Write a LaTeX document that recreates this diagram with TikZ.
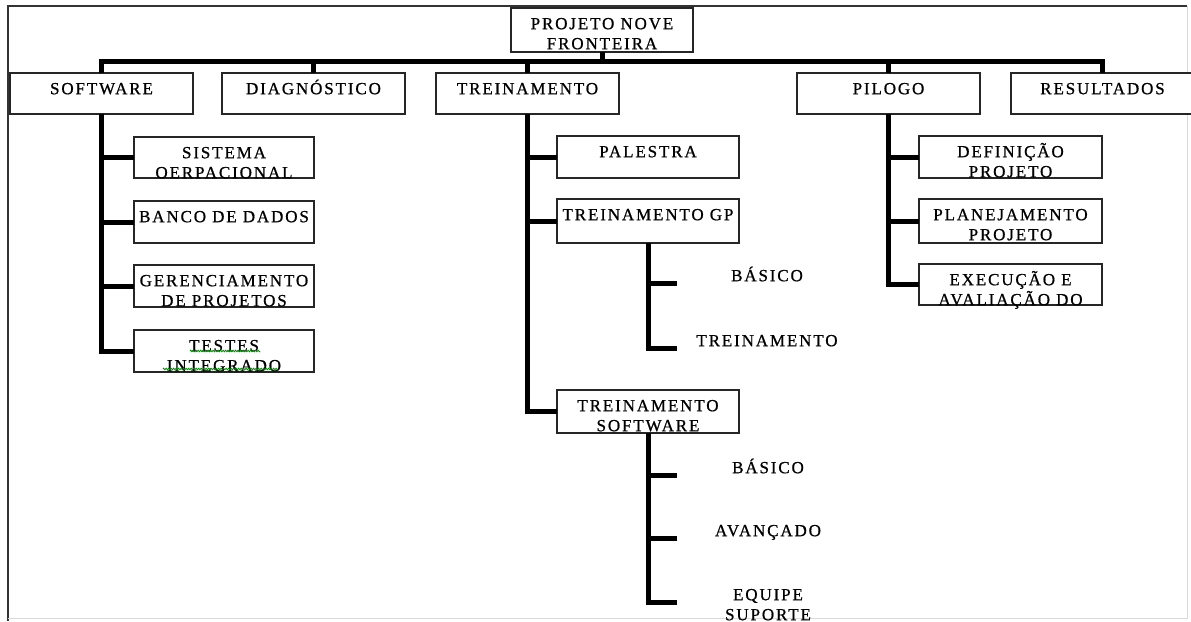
\documentclass[tikz,border=0pt]{standalone}
\usepackage{fontspec}
\setmainfont{Liberation Serif}[LetterSpace=11, FakeBold=0.8]
\usetikzlibrary{calc,decorations.pathmorphing}

% invisible first-line strut: fixes the distance from a text's top to its first baseline
\newcommand\wbsstrut{\rule{0pt}{15pt}}

% box from (x1,y1) to (x2,y2), y measured downwards; text set from the top
\newcommand\wbsbox[6]{%
  \node[box, minimum width={(#4-#2)*1pt}, minimum height={(#5-#3)*1pt}]
    (#1) at ({(#2+#4)/2},{(#3+#5)/2}) {};
  \node[txt] (#1-t) at ($(#1.north)+(0,6)$) {\wbsstrut#6};%
}

\begin{document}
\begin{tikzpicture}[x=1pt,y=-1pt,
  box/.style={draw=black!85, line width=1.5pt, fill=white, inner sep=0pt, outer sep=0pt},
  trunk/.style={line width=5pt, line join=miter, black},
  txt/.style={font=\fontsize{17}{20}\selectfont, align=center, inner sep=0pt, anchor=north},
  squiggle/.style={draw=green!55!black, line width=0.8pt, decorate,
    decoration={zigzag, amplitude=0.8pt, segment length=2.5pt}}
]
\useasboundingbox (0,0) rectangle (1191,621);

% page frame
\draw[black!80, line width=1.5pt] (8,621) -- (8,6) -- (1187,6);
\draw[black!15, line width=1pt] (1187,6) -- (1187,618) -- (8,618);

% boxes
\wbsbox{root}{511}{8}{693}{52}{PROJETO NOVE\\FRONTEIRA}

\wbsbox{sw}{10}{73}{193}{114}{SOFTWARE}
\wbsbox{dia}{222}{73}{405}{114}{DIAGNÓSTICO}
\wbsbox{tre}{436}{73}{619}{114}{TREINAMENTO}
\wbsbox{pil}{797}{73}{980}{114}{PILOGO}
\wbsbox{res}{1011}{73}{1194}{114}{RESULTADOS}

\wbsbox{sw1}{134}{137}{314}{178}{SISTEMA\\OERPACIONAL}
\wbsbox{sw2}{134}{201}{314}{243}{BANCO DE DADOS}
\wbsbox{sw3}{134}{265}{314}{307}{GERENCIAMENTO\\DE PROJETOS}
\wbsbox{sw4}{134}{330}{314}{372}{TESTES\\INTEGRADO}

\wbsbox{tr1}{557}{136}{739}{178}{PALESTRA}
\wbsbox{tr2}{557}{199}{739}{243}{TREINAMENTO GP}
\wbsbox{tr3}{557}{390}{739}{433}{TREINAMENTO\\SOFTWARE}

\wbsbox{pi1}{919}{136}{1102}{178}{DEFINIÇÃO\\PROJETO}
\wbsbox{pi2}{919}{199}{1102}{243}{PLANEJAMENTO\\PROJETO}
\wbsbox{pi3}{919}{264}{1102}{305}{EXECUÇÃO E\\AVALIAÇÃO DO}

% spell-check marks
\draw[squiggle] (190,351) -- (260,351);
\draw[squiggle] (163,369) -- (278,369);

% free-standing items (first baseline two points above their tie)
\coordinate (bus) at (0,61);
\coordinate (gpA) at (677,283);
\coordinate (gpB) at (677,348);
\coordinate (tsA) at (677,475);
\coordinate (tsB) at (677,538);
\coordinate (tsC) at (677,602);
\node[txt] (gpa) at (767,266) {\wbsstrut BÁSICO};
\node[txt] (gpb) at (767,331) {\wbsstrut TREINAMENTO};
\node[txt] (tsa) at (768,458) {\wbsstrut BÁSICO};
\node[txt] (tsb) at (768,521) {\wbsstrut AVANÇADO};
\node[txt] (tsc) at (768,585) {\wbsstrut EQUIPE\\SUPORTE};

% connectors
\draw[trunk] (sw.north) -- (sw.north |- bus) -- (res.north |- bus) -- (res.north);
\draw[trunk] (root.south) -- (root.south |- bus);
\draw[trunk] (dia.north) -- (dia.north |- bus);
\draw[trunk] (tre.north) -- (tre.north |- bus);
\draw[trunk] (pil.north) -- (pil.north |- bus);

\draw[trunk] (sw.south) |- (sw4.west);
\draw[trunk] (sw1.west) -- (sw1.west -| sw.south);
\draw[trunk] (sw2.west) -- (sw2.west -| sw.south);
\draw[trunk] (sw3.west) -- (sw3.west -| sw.south);

\draw[trunk] (tre.south) |- (tr3.west);
\draw[trunk] (tr1.west) -- (tr1.west -| tre.south);
\draw[trunk] (tr2.west) -- (tr2.west -| tre.south);

\draw[trunk] (tr2.south) |- (gpB);
\draw[trunk] (gpA) -- (gpA -| tr2.south);

\draw[trunk] (tr3.south) |- (tsC);
\draw[trunk] (tsA) -- (tsA -| tr3.south);
\draw[trunk] (tsB) -- (tsB -| tr3.south);

\draw[trunk] (pil.south) |- (pi3.west);
\draw[trunk] (pi1.west) -- (pi1.west -| pil.south);
\draw[trunk] (pi2.west) -- (pi2.west -| pil.south);
\end{tikzpicture}
\end{document}
